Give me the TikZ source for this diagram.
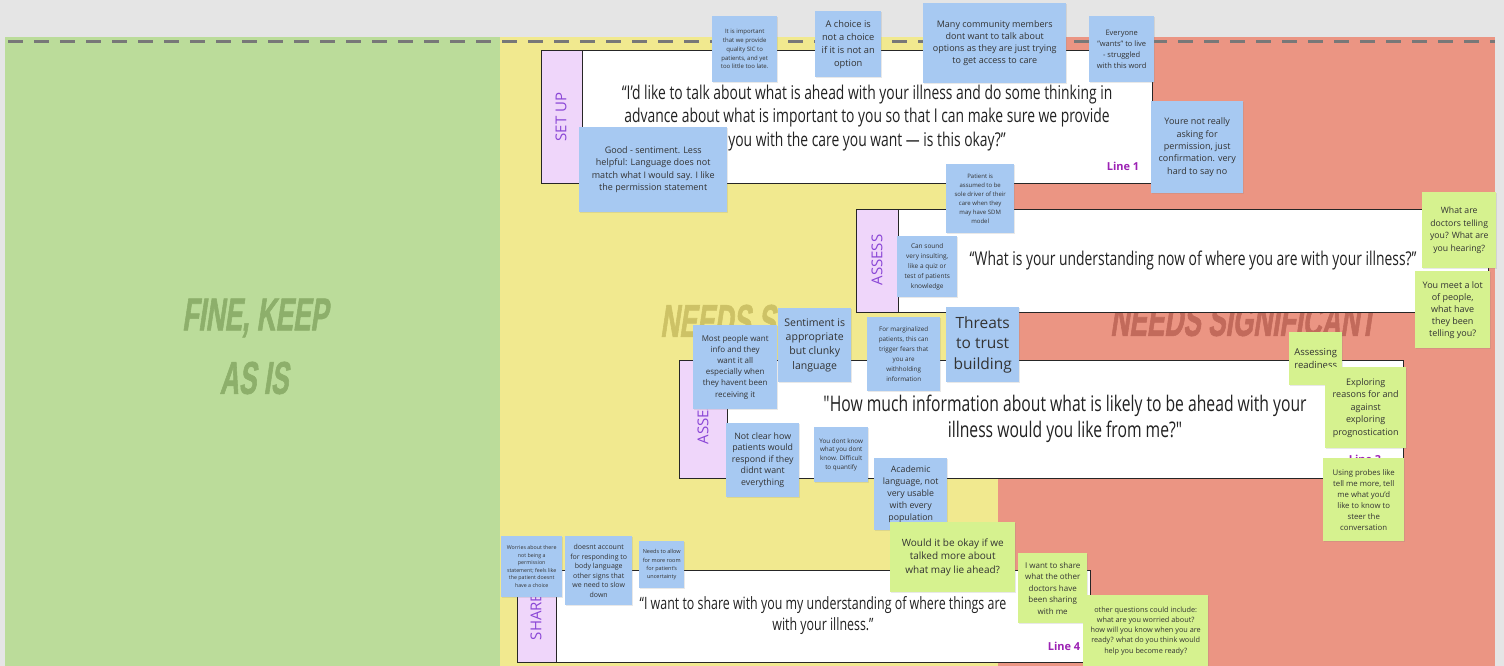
\documentclass[tikz,border=0pt]{standalone}
\usepackage{fontspec}
\setmainfont{Open Sans}
\newfontfamily\quotefont[FakeStretch=0.73]{Open Sans}
\newfontfamily\bigfont[FakeStretch=0.57,FakeSlant=0.15,FakeBold=1.2]{Liberation Sans}
\usetikzlibrary{shadows}
\definecolor{bggray}{HTML}{E5E5E5}
\definecolor{finebg}{HTML}{BBDC9A}
\definecolor{smallbg}{HTML}{F1E98F}
\definecolor{sigbg}{HTML}{EB9583}
\definecolor{finetxt}{HTML}{8DAF6B}
\definecolor{smalltxt}{HTML}{CDC266}
\definecolor{sigtxt}{HTML}{C26A5B}
\definecolor{dashgray}{HTML}{787878}
\definecolor{lavender}{HTML}{EFD6FA}
\definecolor{tagpurple}{HTML}{8A46D6}
\definecolor{linepurple}{HTML}{9C22B4}
\definecolor{bluenote}{HTML}{A7C9F2}
\definecolor{greennote}{HTML}{D6F28F}
\definecolor{notetext}{HTML}{333333}
\definecolor{quotetext}{HTML}{222222}
\tikzset{
  note/.style n args={4}{anchor=north west, minimum width=#1pt, minimum height=#2pt,
    inner sep=1pt, align=center, font=\fontsize{#3}{#4}\selectfont, text=notetext,
    drop shadow={shadow xshift=1pt, shadow yshift=-1pt, opacity=0.18}},
  bnote/.style={fill=bluenote},
  gnote/.style={fill=greennote},
  bigtext/.style={font=\bigfont\bfseries\fontsize{46}{46}\selectfont, inner sep=0pt},
  tagbox/.style={fill=lavender, draw=black!85, line width=1pt},
  whitebox/.style={fill=white, draw=black!85, line width=1pt},
  tagtext/.style={rotate=90, text=tagpurple, font=\fontsize{15}{15}\selectfont, inner sep=0pt},
  quote/.style n args={2}{align=center, text=quotetext, font=\quotefont\fontsize{#1}{#2}\selectfont, inner sep=0pt},
  linelabel/.style={text=linepurple, font=\bfseries\fontsize{11}{11}\selectfont, inner sep=0pt},
  dashline/.style={draw=dashgray, line width=3pt, dash pattern=on 15pt off 11pt}
}
\begin{document}
\begin{tikzpicture}[x=1pt,y=-1pt]
\useasboundingbox (0,0) rectangle (1504,666);
% background zones
\fill[bggray] (0,0) rectangle (1504,666);
\fill[finebg] (5,37) rectangle (500,666);
\fill[smallbg] (500,37) rectangle (998,666);
\fill[sigbg] (998,37) rectangle (1495,666);
\draw[dashline] (8,42) -- (1495,42);
% zone titles
\node[bigtext, text=finetxt] (fine1) at (255,318) {FINE, KEEP};
\node[bigtext, text=finetxt] (fine2) at (254,378) {AS IS};
\node[bigtext, text=smalltxt, anchor=west] (small1) at (660,321) {NEEDS S};
\node[bigtext, text=sigtxt, anchor=west] (sig1) at (1110,320) {NEEDS SIGNIFICANT};
% line 1
\draw[tagbox] (541,51) rectangle (582,183);
\draw[whitebox] (582,51) rectangle (1152,183);
\node[tagtext] (tag1) at (561,117) {SET UP};
\node[quote={19}{23.5}] (q1) at (867,118) {“I’d like to talk about what is ahead with your illness and do some thinking in\\advance about what is important to you so that I can make sure we provide\\you with the care you want — is this okay?”};
\node[linelabel] (lab1) at (1123,166) {Line 1};
% line 2
\draw[tagbox] (856,209) rectangle (898,312);
\draw[whitebox] (898,209) rectangle (1488,312);
\node[tagtext] (tag2) at (877,260) {ASSESS};
\node[quote={19}{23.5}] (q2) at (1193,261) {“What is your understanding now of where you are with your illness?”};
% line 3
\draw[tagbox] (679,360) rectangle (727,478);
\draw[whitebox] (727,360) rectangle (1403,478);
\node[tagtext] (tag3) at (703,419) {ASSESS};
\node[quote={21.5}{26}] (q3) at (1065,419) {"How much information about what is likely to be ahead with your\\illness would you like from me?"};
\node[linelabel] (lab3) at (1365,459) {Line 3};
% line 4
\draw[tagbox] (517,570) rectangle (556,662);
\draw[whitebox] (556,570) rectangle (1090,662);
\node[tagtext] (tag4) at (536,617) {SHARE};
\node[quote={17}{21}] (q4) at (823,616) {“I want to share with you my understanding of where things are\\with your illness.”};
\node[linelabel] (lab4) at (1064,646) {Line 4};
% sticky notes
\node[note={65}{66}{6}{8.7}, bnote] (b1) at (712,16) {It is important\\that we provide\\quality SIC to\\patients, and yet\\too little too late.};
\node[note={66}{66}{9.3}{13}, bnote] (b2) at (815,11) {A choice is\\not a choice\\if it is not an\\option};
\node[note={143}{80}{9}{12.3}, bnote] (b3) at (923,3) {Many community members\\dont want to talk about\\options as they are just trying\\to get access to care};
\node[note={65}{66}{7.5}{10.8}, bnote] (b4) at (1089,16) {Everyone\\"wants" to live\\- struggled\\with this word};
\node[note={148}{85}{9}{12.6}, bnote] (b6) at (579,127) {Good - sentiment. Less\\helpful: Language does not\\match what I would say. I like\\the permission statement};
\node[note={92}{92}{9}{12.3}, bnote] (b5) at (1151,101) {Youre not really\\asking for\\permission, just\\confirmation. very\\hard to say no};
\node[note={68}{69}{6}{9.1}, bnote] (b7) at (946,164) {Patient is\\assumed to be\\sole driver of their\\care when they\\may have SDM\\model};
\node[note={60}{61}{6.5}{10}, bnote] (b8) at (897,236) {Can sound\\very insulting,\\like a quiz or\\test of patients\\knowledge};
\node[note={74}{76}{8.7}{12.5}, gnote] (g1) at (1422,192) {What are\\doctors telling\\you? What are\\you hearing?};
\node[note={75}{77}{9}{12}, gnote] (g2) at (1415,271) {You meet a lot\\of people,\\what have\\they been\\telling you?};
\node[note={73}{74}{10.5}{14.3}, bnote] (b10) at (778,308) {Sentiment is\\appropriate\\but clunky\\language};
\node[note={73}{74}{6.3}{10}, bnote] (b11) at (867,317) {For marginalized\\patients, this can\\trigger fears that\\you are\\withholding\\information};
\node[note={73}{75}{15.5}{20.7}, bnote] (b12) at (946,307) {Threats\\to trust\\building};
\node[note={84}{84}{8}{11.1}, bnote] (b9) at (693,325) {Most people want\\info and they\\want it all\\especially when\\they havent been\\receiving it};
\node[note={53}{53}{9.5}{13}, gnote] (g3) at (1289,332) {Assessing\\readiness};
\node[note={81}{81}{9}{12.5}, gnote] (g4) at (1325,367) {Exploring\\reasons for and\\against\\exploring\\prognostication};
\node[note={81}{83}{7.8}{11}, gnote] (g5) at (1323,458) {Using probes like\\tell me more, tell\\me what you’d\\like to know to\\steer the\\conversation};
\node[note={73}{74}{8.8}{11.5}, bnote] (b13) at (726,423) {Not clear how\\patients would\\respond if they\\didnt want\\everything};
\node[note={54}{55}{6.3}{8.7}, bnote] (b14) at (814,427) {You dont know\\what you dont\\know. Difficult\\to quantify};
\node[note={73}{72}{8.8}{12}, bnote] (b15) at (874,458) {Academic\\language, not\\very usable\\with every\\population};
\node[note={125}{70}{10}{13.7}, gnote] (g6) at (890,522) {Would it be okay if we\\talked more about\\what may lie ahead?};
\node[note={61}{61}{5.3}{7.5}, bnote] (b16) at (501,536) {Worries about there\\not being a\\permission\\statement; feels like\\the patient doesnt\\have a choice};
\node[note={67}{69}{7}{9.5}, bnote] (b17) at (565,536) {doesnt account\\for responding to\\body language\\other signs that\\we need to slow\\down};
\node[note={45}{47}{5.5}{8.2}, bnote] (b18) at (639,541) {Needs to allow\\for more room\\for patient's\\uncertainty};
\node[note={69}{70}{8}{11.5}, gnote] (g7) at (1018,553) {I want to share\\what the other\\doctors have\\been sharing\\with me};
\node[note={125}{71}{7.3}{10.3}, gnote] (g8) at (1083,595) {other questions could include:\\what are you worried about?\\how will you know when you are\\ready? what do you think would\\help you become ready?};
\end{tikzpicture}
\end{document}
